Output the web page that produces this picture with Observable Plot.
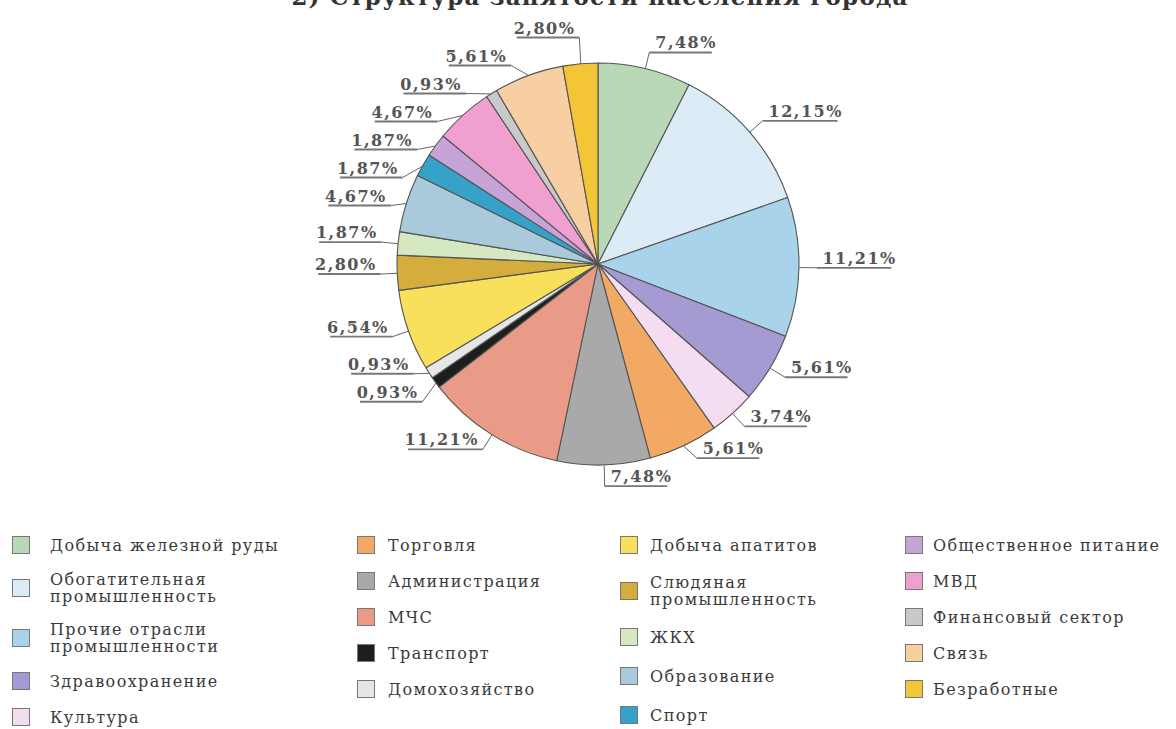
<!DOCTYPE html>
<html><head><meta charset="utf-8">
<script src="https://cdn.jsdelivr.net/npm/d3@7"></script>
<script src="https://cdn.jsdelivr.net/npm/@observablehq/plot@0.6"></script>
<style>
body{margin:0;background:#fff;width:1176px;height:729px;overflow:hidden;position:relative;font-family:"DejaVu Serif",serif}
#title{position:absolute;z-index:2;top:-15px;left:12px;width:1176px;text-align:center;font-size:23px;line-height:23px;font-weight:bold;color:#333;letter-spacing:1.2px;white-space:nowrap}
#chart{position:absolute;top:0;left:0;z-index:1}
#chart text{letter-spacing:1.5px}
#legend{position:absolute;top:535px;left:0;width:1176px;height:194px}
.col{position:absolute;top:0;display:flex;flex-direction:column}
.item{display:flex;align-items:center;font-size:16px;line-height:17px;color:#3a3a3a;letter-spacing:1.4px;white-space:pre-line;min-height:20px}
.sw{width:18px;height:18px;border:1px solid #777;box-sizing:border-box;flex:none;margin-right:14px}
</style></head><body>
<div id="title">2) Структура занятости населения города</div>
<div id="chart"></div>
<div id="legend"></div>
<script>
// ---- data (pie order, clockwise from 12 o'clock) ----
const categories = [
  "Добыча железной руды", "Обогатительная\nпромышленность", "Прочие отрасли\nпромышленности", "Здравоохранение", "Культура",
  "Торговля", "Администрация", "МЧС", "Транспорт", "Домохозяйство",
  "Добыча апатитов", "Слюдяная\nпромышленность", "ЖКХ", "Образование", "Спорт",
  "Общественное питание", "МВД", "Финансовый сектор", "Связь", "Безработные"
];
const shares = [
  7.48, 12.15, 11.21, 5.61, 3.74,
  5.61, 7.48, 11.21, 0.93, 0.93,
  6.54, 2.80, 1.87, 4.67, 1.87,
  1.87, 4.67, 0.93, 5.61, 2.80
];
const colors = [
  "#b9d8b6", "#dcecf7", "#a8d3ea", "#a59bd2", "#f4ddf1",
  "#f2a964", "#a9a9aa", "#e99b88", "#1e1e1e", "#e6e6e6",
  "#f9e05c", "#d4ad3c", "#d6e8c2", "#a9cada", "#37a2c9",
  "#c6a4d8", "#ef9fd0", "#c9c9c9", "#f7cfa3", "#f3c537"
];
const legendColumns = [[0,1,2,3,4],[5,6,7,8,9],[10,11,12,13,14],[15,16,17,18,19]];

// ---- layout constants ----
const W = 1176, H = 520, CX = 598, CY = 264, R = 201, LR = R + 17, GAP = 28;
const fmt = v => v.toFixed(2).replace(".", ",") + "%";

const data = categories.map((c, i) => ({cat: c, value: shares[i], color: colors[i]}));
const arcs = d3.pie().sort(null).value(d => d.value)(data);

const labels = arcs.map(a => {
  const m = (a.startAngle + a.endAngle) / 2, s = Math.sin(m), c = Math.cos(m);
  return {text: fmt(a.data.value), side: s >= 0 ? "right" : "left",
    ex: CX + R * s, ey: CY - R * c, lx: CX + LR * s, ly: CY - LR * c};
});
for (const side of ["left", "right"]) {
  const L = labels.filter(d => d.side === side).sort((a, b) => a.ly - b.ly);
  for (let it = 0; it < 300; it++) {
    for (let i = 1; i < L.length; i++) {
      const d = L[i].ly - L[i - 1].ly;
      if (d < GAP) { const sh = (GAP - d) / 2; L[i].ly += sh; L[i - 1].ly -= sh; }
    }
    if (L.length && L[0].ly < 37) L[0].ly = 37;
  }
  for (const d of L) {
    const dy = d.ly - CY;
    if (Math.abs(dy) < LR) {
      const dx = Math.sqrt(LR * LR - dy * dy);
      d.lx = side === "right" ? Math.max(d.lx, CX + dx * 0.98) : Math.min(d.lx, CX - dx * 0.98);
    }
  }
}
labels.forEach(d => { d.ul = d.text.length * 12.5; d.lx2 = d.side === "right" ? d.lx + d.ul : d.lx - d.ul; });

const pieMark = (index, scales) => {
  const sx = scales.x || (v => v), sy = scales.y || (v => v);
  const r = sx(CX + R) - sx(CX);
  const arc = d3.arc().innerRadius(0).outerRadius(r);
  const g = d3.create("svg:g").attr("transform", `translate(${sx(CX)},${sy(CY)})`);
  g.selectAll("path").data(arcs).join("path")
    .attr("d", arc).attr("fill", d => d.data.color)
    .attr("stroke", "#555").attr("stroke-width", 1.1).attr("stroke-linejoin", "round");
  return g.node();
};

const textOpts = {y: "ly", dy: -4, lineAnchor: "bottom", text: "text", fontFamily: "DejaVu Serif",
  fontSize: 16, fontWeight: "bold", fill: "#555"};

const chart = Plot.plot({
  width: W, height: H, margin: 0,
  x: {domain: [0, W], range: [0, W], axis: null},
  y: {domain: [0, H], range: [0, H], axis: null},
  style: {background: "transparent", overflow: "visible"},
  marks: [
    Plot.link(labels, {x1: "ex", y1: "ey", x2: "lx", y2: "ly", stroke: "#666", strokeWidth: 1}),
    Plot.link(labels, {x1: "lx", y1: "ly", x2: "lx2", y2: "ly", stroke: "#777", strokeWidth: 1.8}),
    pieMark,
    Plot.text(labels.filter(d => d.side === "right"), {...textOpts, x: d => d.lx + 6, textAnchor: "start"}),
    Plot.text(labels.filter(d => d.side === "left"), {...textOpts, x: d => d.lx - 4, textAnchor: "end"})
  ]
});
document.getElementById("chart").appendChild(chart);

// ---- legend ----
const colLeft = [12, 357, 620, 905];
const colGap = [16, 16, 19, 16];
const colTextGap = [20, 13, 12, 10];
const legend = document.getElementById("legend");
legendColumns.forEach((col, ci) => {
  const div = document.createElement("div");
  div.className = "col";
  div.style.left = colLeft[ci] + "px";
  div.style.gap = colGap[ci] + "px";
  col.forEach(i => {
    const it = document.createElement("div");
    it.className = "item";
    const sw = document.createElement("span");
    sw.className = "sw";
    sw.style.background = colors[i];
    sw.style.marginRight = colTextGap[ci] + "px";
    const tx = document.createElement("span");
    tx.textContent = categories[i];
    it.appendChild(sw); it.appendChild(tx);
    div.appendChild(it);
  });
  legend.appendChild(div);
});
</script>
</body></html>
